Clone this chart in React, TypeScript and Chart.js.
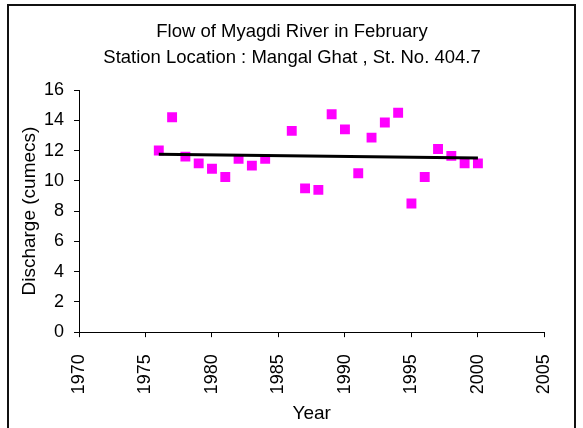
import { useEffect, useRef } from "react";
import { Chart, registerables } from "chart.js";

Chart.register(...registerables);

const years = [1976, 1977, 1978, 1979, 1980, 1981, 1982, 1983, 1984, 1986, 1987, 1988, 1989, 1990, 1991, 1992, 1993, 1994, 1995, 1996, 1997, 1998, 1999, 2000];
const discharge = [12.0, 14.2, 11.6, 11.15, 10.8, 10.25, 11.45, 11.0, 11.45, 13.3, 9.5, 9.4, 14.4, 13.4, 10.5, 12.85, 13.85, 14.5, 8.5, 10.25, 12.1, 11.65, 11.15, 11.15];
const trendYears = [1976, 2000];
const trendValues = [11.75, 11.5];
const titleLines = ["Flow of Myagdi River in February", "Station Location : Mangal Ghat , St. No. 404.7"];
const xAxisTitle = "Year";
const yAxisTitle = "Discharge (cumecs)";

const FONT = "'Liberation Sans', Arial, sans-serif";

const frameAndTitle = {
  id: "frameAndTitle",
  afterDraw(chart: any) {
    const ctx = chart.ctx;
    ctx.save();
    ctx.strokeStyle = "#111";
    ctx.lineWidth = 2;
    ctx.strokeRect(8, 5, 567, 500);
    ctx.fillStyle = "#000";
    ctx.font = `18.5px ${FONT}`;
    ctx.textAlign = "center";
    ctx.textBaseline = "middle";
    titleLines.forEach((line, i) => ctx.fillText(line, 292, 32 + i * 26));
    ctx.restore();
  },
};

export default function App() {
  const ref = useRef<HTMLCanvasElement>(null);
  useEffect(() => {
    document.body.style.margin = "0";
    const chart = new Chart(ref.current!, {
      type: "scatter",
      data: {
        datasets: [
          {
            type: "line",
            data: trendYears.map((x, i) => ({ x, y: trendValues[i] })),
            borderColor: "#000",
            borderWidth: 3,
            pointRadius: 0,
            fill: false,
          } as any,
          {
            data: years.map((x, i) => ({ x, y: discharge[i] })),
            pointStyle: "rect",
            pointRadius: 7,
            backgroundColor: "#ff00ff",
            borderColor: "#ff00ff",
            borderWidth: 0,
          },
        ],
      },
      options: {
        responsive: false,
        animation: false,
        layout: { padding: { left: 20, right: 36, top: 90, bottom: 1 } },
        plugins: {
          legend: { display: false },
          tooltip: { enabled: false },
          title: { display: false },
        },
        scales: {
          x: {
            type: "linear",
            min: 1970,
            max: 2005,
            ticks: {
              stepSize: 5,
              color: "#000",
              font: { family: FONT, size: 18 },
              maxRotation: 90,
              minRotation: 90,
              padding: 17,
              callback: (v: any) => String(v),
            },
            grid: { drawOnChartArea: false, color: "#000", tickLength: 5 },
            border: { color: "#000", width: 1 },
            title: { display: true, text: xAxisTitle, color: "#000", font: { family: FONT, size: 19 }, padding: { top: -9, bottom: 2 } },
          },
          y: {
            min: 0,
            max: 16,
            ticks: { stepSize: 2, color: "#000", font: { family: FONT, size: 18 }, padding: 10 },
            grid: { drawOnChartArea: false, color: "#000", tickLength: 5 },
            border: { color: "#000", width: 1 },
            title: { display: true, text: yAxisTitle, color: "#000", font: { family: FONT, size: 19, lineHeight: 1 }, padding: { top: 0, bottom: -5 } },
          },
        },
      },
      plugins: [frameAndTitle],
    });
    return () => chart.destroy();
  }, []);
  return <canvas ref={ref} width={583} height={428} style={{ display: "block" }} />;
}
